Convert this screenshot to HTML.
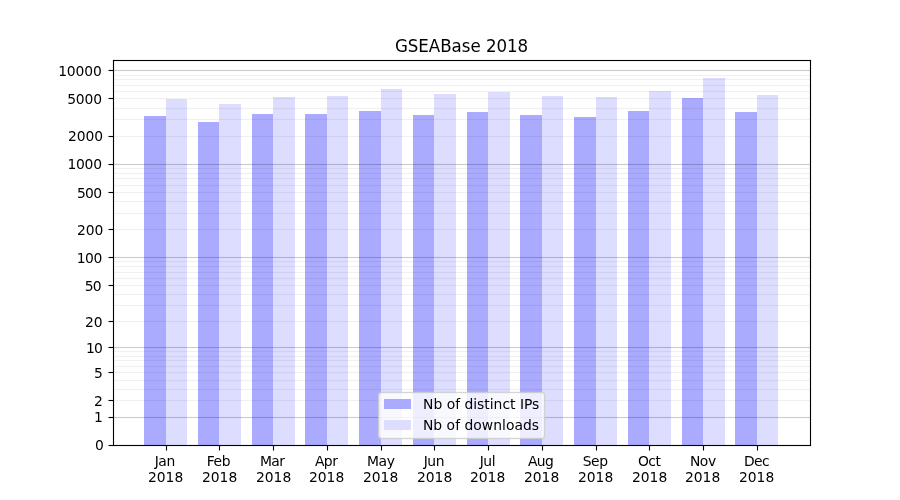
<!DOCTYPE html>
<html lang="en">
<head>
<meta charset="utf-8">
<title>GSEABase 2018</title>
<style>
html,body{margin:0;padding:0;background:#fff}
body{width:900px;height:500px;overflow:hidden;font-family:"DejaVu Sans","Liberation Sans",sans-serif;color:#000}
#fig{position:relative;width:900px;height:500px;background:#fff;overflow:hidden}
#fig div{position:absolute}
#plot,#yaxis,#xaxis{left:0;top:0;width:900px;height:500px}
.bar{bottom:55px}
.d{background:#aaaaff}
.l{background:#ddddff}
.g{left:113px;width:698px;height:1px}
.gM{background:rgba(0,0,0,.2);box-shadow:0 1px 0 rgba(0,0,0,.012),0 -1px 0 rgba(0,0,0,.012)}
.gm{background:rgba(0,0,0,.06);box-shadow:0 1px 0 rgba(0,0,0,.004),0 -1px 0 rgba(0,0,0,.004)}
.sp{background:#000;box-shadow:1px 0 0 rgba(0,0,0,.055),-1px 0 0 rgba(0,0,0,.055),0 1px 0 rgba(0,0,0,.055),0 -1px 0 rgba(0,0,0,.055)}
.sv{top:60px;width:1px;height:386px}
.sh{left:113px;width:698px;height:1px}
.yt{left:109px;width:4px;height:1px;background:#000;box-shadow:0 1px 0 rgba(0,0,0,.055),0 -1px 0 rgba(0,0,0,.055),-1px 0 0 rgba(0,0,0,.5)}
.xt{top:446px;width:1px;height:4px;background:#000;box-shadow:1px 0 0 rgba(0,0,0,.055),-1px 0 0 rgba(0,0,0,.055),0 1px 0 rgba(0,0,0,.5)}
.t{font-size:13.889px;line-height:16px;white-space:nowrap}
#title{font-size:16.667px;line-height:20px;white-space:nowrap;transform:scaleY(1.07);transform-origin:0 0}
#legend{left:378px;top:392px;width:165px;height:45px;border:1px solid rgba(208,208,208,.863);border-radius:3.3px;background:rgba(255,255,255,.8);background-clip:padding-box;box-shadow:0 0 0 1px rgba(204,204,204,.15),inset 0 0 0 1px rgba(204,204,204,.15)}
.h{left:384px;width:27px;height:10px}

</style>
</head>
<body>
<div id="fig">
<div id="title" style="left:394.94px;top:36px;letter-spacing:-0.03px">GSEABase 2018</div>
<div id="plot">
<div class="bar d" style="left:144px;width:22px;top:116px"></div>
<div class="bar l" style="left:166px;width:21px;top:99px"></div>
<div class="bar d" style="left:198px;width:21px;top:122px"></div>
<div class="bar l" style="left:219px;width:22px;top:104px"></div>
<div class="bar d" style="left:252px;width:21px;top:114px"></div>
<div class="bar l" style="left:273px;width:22px;top:97px"></div>
<div class="bar d" style="left:305px;width:22px;top:114px"></div>
<div class="bar l" style="left:327px;width:21px;top:96px"></div>
<div class="bar d" style="left:359px;width:22px;top:111px"></div>
<div class="bar l" style="left:381px;width:21px;top:89px"></div>
<div class="bar d" style="left:413px;width:21px;top:115px"></div>
<div class="bar l" style="left:434px;width:22px;top:94px"></div>
<div class="bar d" style="left:467px;width:21px;top:112px"></div>
<div class="bar l" style="left:488px;width:22px;top:92px"></div>
<div class="bar d" style="left:520px;width:22px;top:115px"></div>
<div class="bar l" style="left:542px;width:21px;top:96px"></div>
<div class="bar d" style="left:574px;width:22px;top:117px"></div>
<div class="bar l" style="left:596px;width:21px;top:97px"></div>
<div class="bar d" style="left:628px;width:21px;top:111px"></div>
<div class="bar l" style="left:649px;width:22px;top:91px"></div>
<div class="bar d" style="left:682px;width:21px;top:98px"></div>
<div class="bar l" style="left:703px;width:22px;top:78px"></div>
<div class="bar d" style="left:735px;width:22px;top:112px"></div>
<div class="bar l" style="left:757px;width:21px;top:95px"></div>
<div class="g gM" style="top:417px"></div>
<div class="g gm" style="top:400px"></div>
<div class="g gm" style="top:389px"></div>
<div class="g gm" style="top:380px"></div>
<div class="g gm" style="top:372px"></div>
<div class="g gm" style="top:366px"></div>
<div class="g gm" style="top:360px"></div>
<div class="g gm" style="top:356px"></div>
<div class="g gm" style="top:351px"></div>
<div class="g gM" style="top:347px"></div>
<div class="g gm" style="top:321px"></div>
<div class="g gm" style="top:305px"></div>
<div class="g gm" style="top:294px"></div>
<div class="g gm" style="top:285px"></div>
<div class="g gm" style="top:278px"></div>
<div class="g gm" style="top:272px"></div>
<div class="g gm" style="top:266px"></div>
<div class="g gm" style="top:261px"></div>
<div class="g gM" style="top:257px"></div>
<div class="g gm" style="top:229px"></div>
<div class="g gm" style="top:213px"></div>
<div class="g gm" style="top:201px"></div>
<div class="g gm" style="top:192px"></div>
<div class="g gm" style="top:185px"></div>
<div class="g gm" style="top:178px"></div>
<div class="g gm" style="top:173px"></div>
<div class="g gm" style="top:168px"></div>
<div class="g gM" style="top:164px"></div>
<div class="g gm" style="top:136px"></div>
<div class="g gm" style="top:119px"></div>
<div class="g gm" style="top:108px"></div>
<div class="g gm" style="top:98px"></div>
<div class="g gm" style="top:91px"></div>
<div class="g gm" style="top:85px"></div>
<div class="g gm" style="top:79px"></div>
<div class="g gm" style="top:75px"></div>
<div class="g gM" style="top:70px"></div>
<div class="sp sv" style="left:113px"></div>
<div class="sp sv" style="left:810px"></div>
<div class="sp sh" style="top:445px"></div>
<div class="sp sh" style="top:60px"></div>
</div>
<div id="yaxis">
<div class="yt" style="top:445px"></div>
<div class="t" style="left:95.016px;top:437px">0</div>
<div class="yt" style="top:417px"></div>
<div class="t" style="left:93.891px;top:409px">1</div>
<div class="yt" style="top:400px"></div>
<div class="t" style="left:94.016px;top:393px">2</div>
<div class="yt" style="top:372px"></div>
<div class="t" style="left:94.016px;top:365px">5</div>
<div class="yt" style="top:347px"></div>
<div class="t" style="left:85.891px;top:340px;letter-spacing:-0.6px">10</div>
<div class="yt" style="top:321px"></div>
<div class="t" style="left:85.016px;top:314px;letter-spacing:-0.21px">20</div>
<div class="yt" style="top:285px"></div>
<div class="t" style="left:84.641px;top:278px;letter-spacing:-0.6px">50</div>
<div class="yt" style="top:257px"></div>
<div class="t" style="left:76.766px;top:250px;letter-spacing:-0.51px">100</div>
<div class="yt" style="top:229px"></div>
<div class="t" style="left:77.016px;top:222px;letter-spacing:-0.12px">200</div>
<div class="yt" style="top:192px"></div>
<div class="t" style="left:76.891px;top:185px;letter-spacing:-0.6px">500</div>
<div class="yt" style="top:164px"></div>
<div class="t" style="left:67.391px;top:156px;letter-spacing:-0.24px">1000</div>
<div class="yt" style="top:136px"></div>
<div class="t" style="left:68.016px;top:128px;letter-spacing:-0.12px">2000</div>
<div class="yt" style="top:98px"></div>
<div class="t" style="left:67.141px;top:91px;letter-spacing:-0.15px">5000</div>
<div class="yt" style="top:70px"></div>
<div class="t" style="left:58.141px;top:63px;letter-spacing:-0.12px">10000</div>
</div>
<div id="xaxis">
<div class="xt" style="left:166px"></div>
<div class="t" style="left:154.688px;top:453px;letter-spacing:-0.45px">Jan</div>
<div class="t" style="left:147.969px;top:469px">2018</div>
<div class="xt" style="left:219px"></div>
<div class="t" style="left:206.797px;top:453px;letter-spacing:-0.45px">Feb</div>
<div class="t" style="left:201.938px;top:469px">2018</div>
<div class="xt" style="left:273px"></div>
<div class="t" style="left:259.922px;top:453px;letter-spacing:-0.6px">Mar</div>
<div class="t" style="left:255.938px;top:469px">2018</div>
<div class="xt" style="left:327px"></div>
<div class="t" style="left:314.891px;top:453px;letter-spacing:-0.51px">Apr</div>
<div class="t" style="left:308.922px;top:469px">2018</div>
<div class="xt" style="left:381px"></div>
<div class="t" style="left:367.016px;top:453px;letter-spacing:-0.42px">May</div>
<div class="t" style="left:363.016px;top:469px;letter-spacing:-0.03px">2018</div>
<div class="xt" style="left:434px"></div>
<div class="t" style="left:423.75px;top:453px;letter-spacing:-0.48px">Jun</div>
<div class="t" style="left:417.016px;top:469px;letter-spacing:-0.03px">2018</div>
<div class="xt" style="left:488px"></div>
<div class="t" style="left:479.719px;top:453px;letter-spacing:-0.48px">Jul</div>
<div class="t" style="left:470.016px;top:469px;letter-spacing:-0.03px">2018</div>
<div class="xt" style="left:542px"></div>
<div class="t" style="left:527.969px;top:453px;letter-spacing:-0.6px">Aug</div>
<div class="t" style="left:524px;top:469px;letter-spacing:-0.03px">2018</div>
<div class="xt" style="left:596px"></div>
<div class="t" style="left:582.813px;top:453px;letter-spacing:-0.51px">Sep</div>
<div class="t" style="left:577.969px;top:469px">2018</div>
<div class="xt" style="left:649px"></div>
<div class="t" style="left:637.938px;top:453px;letter-spacing:-0.54px">Oct</div>
<div class="t" style="left:631.969px;top:469px">2018</div>
<div class="xt" style="left:703px"></div>
<div class="t" style="left:689.938px;top:453px;letter-spacing:-0.45px">Nov</div>
<div class="t" style="left:684.938px;top:469px">2018</div>
<div class="xt" style="left:757px"></div>
<div class="t" style="left:743.922px;top:453px;letter-spacing:-0.6px">Dec</div>
<div class="t" style="left:738.938px;top:469px">2018</div>
</div>
<div id="legend"></div>
<div class="h d" style="top:399px"></div>
<div class="t" style="left:423.047px;top:396px">Nb of distinct IPs</div>
<div class="h l" style="top:420px"></div>
<div class="t" style="left:422.922px;top:417px;letter-spacing:0.03px">Nb of downloads</div>
</div>
</body>
</html>
